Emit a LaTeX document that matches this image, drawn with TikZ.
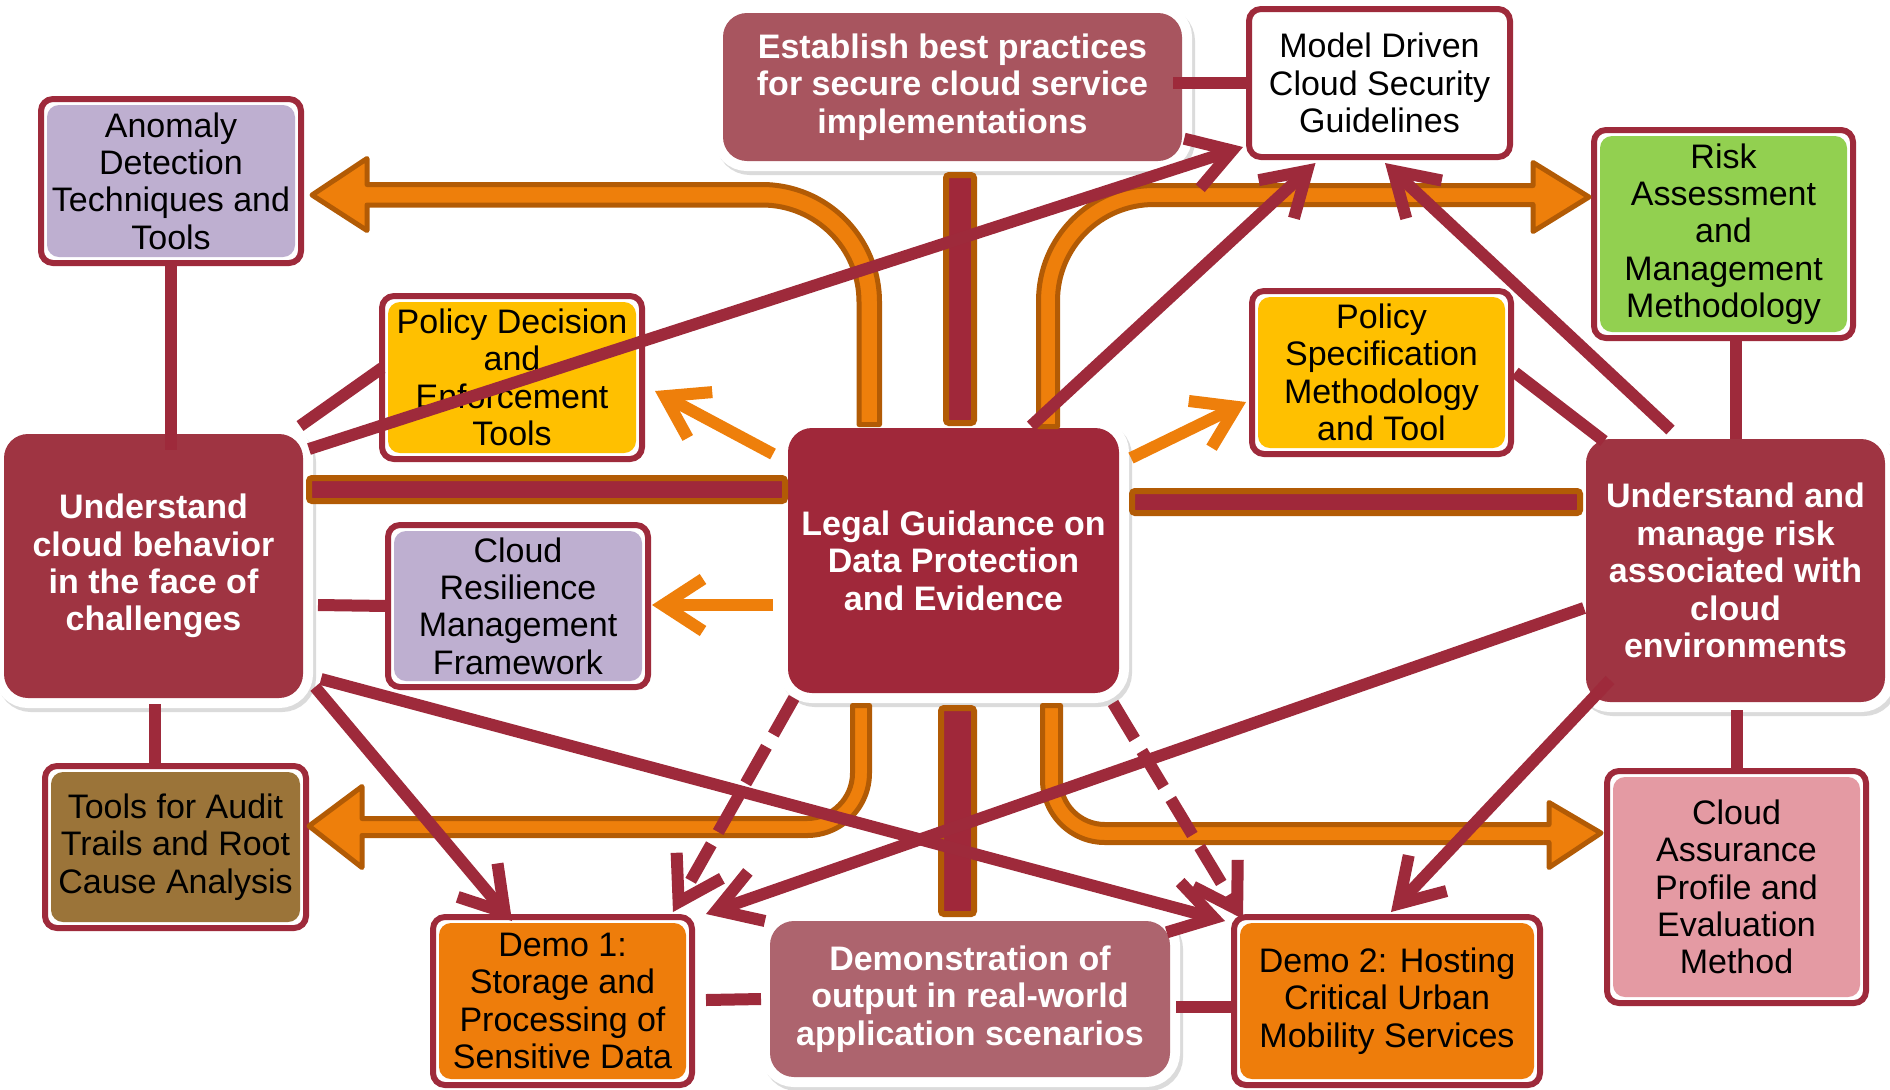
\documentclass[tikz,border=0pt]{standalone}
\usepackage{fontspec}
\setmainfont{Liberation Sans}
\usetikzlibrary{arrows.meta,calc}
\definecolor{dred}{HTML}{9E2A3B}
\definecolor{hred}{HTML}{A0283A}
\definecolor{gred}{HTML}{9F3442}
\definecolor{bred}{HTML}{A8555F}
\definecolor{mred}{HTML}{AD646E}
\definecolor{orng}{HTML}{EE7F0B}
\definecolor{obrown}{HTML}{B25B05}
\definecolor{lav}{HTML}{BEAFD0}
\definecolor{yel}{HTML}{FFC000}
\definecolor{grn}{HTML}{92D050}
\definecolor{brn}{HTML}{9B7439}
\definecolor{pnk}{HTML}{E49AA3}
\definecolor{demo}{HTML}{EE7D0B}
\newcommand\lbxfont{\fontsize{17pt}{18.7pt}\selectfont}
\newcommand\dbxfont{\fontsize{17pt}{18.7pt}\selectfont\bfseries}
\begin{document}
\begin{tikzpicture}[x=0.5pt,y=-0.5pt,
  lbox/.style={draw=dred, line width=3pt, rounded corners=6pt, fill=white,
    outer sep=0pt, inner sep=0pt, align=center, text=black, font=\lbxfont,
    path picture={\fill[#1] ($(path picture bounding box.north west)+(6,6)$) rectangle ($(path picture bounding box.south east)+(-6,-6)$);}},
  dbox/.style={fill=#1, rounded corners=12pt, outer sep=0pt, inner sep=0pt,
    align=center, text=white, font=\dbxfont,
    preaction={fill=black!14, draw=black!14, line width=10pt, transform canvas={xshift=1.5pt,yshift=-2pt}},
    preaction={draw=white, line width=10pt}},
  bar/.style={fill=hred, draw=obrown, line width=3pt, rounded corners=1.5pt},
  bigarrow/.style={fill=orng, draw=obrown, line width=2.5pt, line join=round},
  conn/.style={draw=dred, line width=6pt},
  arr/.style={conn, -{Straight Barb[length=21pt,width=26pt]}},
  darr/.style={arr, dash pattern=on 21pt off 7pt},
  oarr/.style={draw=orng, line width=6pt, -{Straight Barb[length=20pt,width=26pt]}}
]
\useasboundingbox (0,0) rectangle (1890,1089);
\clip (0,0) rectangle (1890,1089);

% dark boxes
\node[dbox=gred, minimum width=149.5pt, minimum height=132pt] (G) at (153.5,566) {Understand\\cloud behavior\\in the face of\\challenges};
\node[dbox=hred, minimum width=165.5pt, minimum height=132.5pt] (H) at (953.5,560.5) {Legal Guidance on\\Data Protection\\and Evidence};
\node[dbox=gred, minimum width=149.5pt, minimum height=131.5pt] (I) at (1735.5,570.5) {Understand and\\manage risk\\associated with\\cloud\\environments};
\node[dbox=bred, minimum width=229.5pt, minimum height=74pt] (B) at (952.5,87) {Establish best practices\\for secure cloud service\\implementations};
\node[dbox=mred, minimum width=200pt, minimum height=78pt] (M) at (970,999) {Demonstration of\\output in real-world\\application scenarios};

% light boxes
\node[lbox=lav, minimum width=130pt, minimum height=82pt] (A) at (171,181) {Anomaly\\Detection\\Techniques and\\Tools};
\node[lbox=white, minimum width=130.5pt, minimum height=74pt] (C) at (1379.5,83) {Model Driven\\Cloud Security\\Guidelines};
\node[lbox=grn, minimum width=129.5pt, minimum height=104pt] (D) at (1723.5,234) {Risk\\Assessment\\and\\Management\\Methodology};
\node[lbox=yel, minimum width=130pt, minimum height=81.5pt] (E) at (512,377.5) {Policy Decision\\and\\Enforcement\\Tools};
\node[lbox=yel, minimum width=129.5pt, minimum height=81.5pt] (F) at (1381.5,372.5) {Policy\\Specification\\Methodology\\and Tool};
\node[lbox=lav, minimum width=130pt, minimum height=81pt] (J) at (518,606) {Cloud\\Resilience\\Management\\Framework};
\node[lbox=brn, minimum width=130.5pt, minimum height=81pt] (K) at (175.5,847) {Tools for Audit\\Trails and Root\\Cause Analysis};
\node[lbox=demo, minimum width=129.5pt, minimum height=84pt] (L) at (562.5,1001) {Demo 1:\\Storage and\\Processing of\\Sensitive Data};
\node[lbox=demo, minimum width=153pt, minimum height=84pt] (N) at (1387,1001) {Demo 2: Hosting\\Critical Urban\\Mobility Services};
\node[lbox=pnk, minimum width=129.5pt, minimum height=116pt] (O) at (1736.5,887) {Cloud\\Assurance\\Profile and\\Evaluation\\Method};

% thick bars
\draw[bar] (946,175) rectangle (974,423);
\draw[bar] (941,708) rectangle (974,914);
\draw[bar] (309,478) rectangle (785,501);
\draw[bar] (1132,491) rectangle (1580,513);

% big orange arrows
\draw[bigarrow] (879.5,424.5) -- (879.5,302) .. controls (879.5,237.1) and (826.9,184.5) .. (762,184.5) -- (367,184.5) -- (367,158.5) -- (312,195) -- (367,230.5) -- (367,205) -- (762,205) .. controls (815.6,205) and (859,248.4) .. (859,302) -- (859,424.5) -- cycle;
\draw[bigarrow] (1038.5,426.5) -- (1038.5,301) .. controls (1038.5,237.2) and (1090.2,185.5) .. (1154,185.5) -- (1533,185.5) -- (1533,162.5) -- (1589,197) -- (1533,231.5) -- (1533,204.5) -- (1154,204.5) .. controls (1100.7,204.5) and (1057.5,247.7) .. (1057.5,301) -- (1057.5,426.5) -- cycle;
\draw[bigarrow] (852.5,705.5) -- (852.5,773) .. controls (852.5,798.1) and (832.1,818.5) .. (807,818.5) -- (362,818.5) -- (362,786.5) -- (309,826) -- (362,867.5) -- (362,835.5) -- (807,835.5) .. controls (841.5,835.5) and (869.5,807.5) .. (869.5,773) -- (869.5,705.5) -- cycle;
\draw[bigarrow] (1042.5,705.5) -- (1042.5,780) .. controls (1042.5,814.5) and (1070.5,842.5) .. (1105,842.5) -- (1549,842.5) -- (1549,867.5) -- (1601,833) -- (1549,802.5) -- (1549,824.5) -- (1105,824.5) .. controls (1080.4,824.5) and (1060.5,804.6) .. (1060.5,780) -- (1060.5,705.5) -- cycle;

% orange thin arrows
\draw[oarr] ($(H.north west)+(-15,26)$) -- ($(E.east)+(13,13.5)$);
\draw[oarr] ($(H.north east)+(12,30)$) -- ($(F.west)+(-6,29.5)$);
\draw[oarr] ($(H.west)+(-15,44.5)$) -- ($(J.east)+(4,-1)$);

% red connectors
\draw[conn] (A.south) -- ($(A.south |- G.north)+(0,16)$);
\draw[conn] ($(G.north east)+(-3,-8)$) -- ($(E.west)+(0,-9.5)$);
\draw[conn] ($(B.east |- C.west)+(-9,0)$) -- (C.west);
\draw[conn] ($(F.east)+(4,0)$) -- ($(I.north west)+(18,2)$);
\draw[conn] (I.north |- D.south) -- (I.north);
\draw[conn] ($(J.west -| G.east)+(15,-1)$) -- (J.west);
\draw[conn] ($(G.south)+(1.5,6)$) -- ($(G.south |- K.north)+(1.5,0)$);
\draw[conn] ($(L.east)+(14,-1)$) -- ($(M.west)+(-9,0)$);
\draw[conn] ($(M.east)+(6,8)$) -- ($(N.west)+(0,6)$);
\draw[conn] ($(O.north |- I.south)+(0,8)$) -- (O.north);

\draw[arr] ($(G.north east)+(6,15)$) -- ($(C.south west)+(-6,-10)$);
\draw[arr] ($(H.north east)+(-88,-2)$) -- ($(C.south)+(-64,6)$);
\draw[arr] ($(I.north)+(-65,-9)$) -- ($(C.south)+(5.5,6)$);
\draw[arr] ($(G.south east)+(12,-11)$) -- ($(L.north)+(-50.5,4)$);
\draw[arr] ($(G.south east)+(18,-19)$) -- ($(N.north west)+(-9,4)$);
\draw[arr] ($(I.west)+(-2,37.5)$) -- ($(L.north east)+(14,-3)$);
\draw[arr] ($(I.south west)+(24,-22)$) -- ($(N.north)+(4,-5)$);
\draw[darr] ($(H.south west)+(6,5)$) -- ($(L.north east)+(-19,-5)$);
\draw[darr] ($(H.south east)+(-6,10)$) -- ($(N.north west)+(9,2)$);
\end{tikzpicture}
\end{document}
